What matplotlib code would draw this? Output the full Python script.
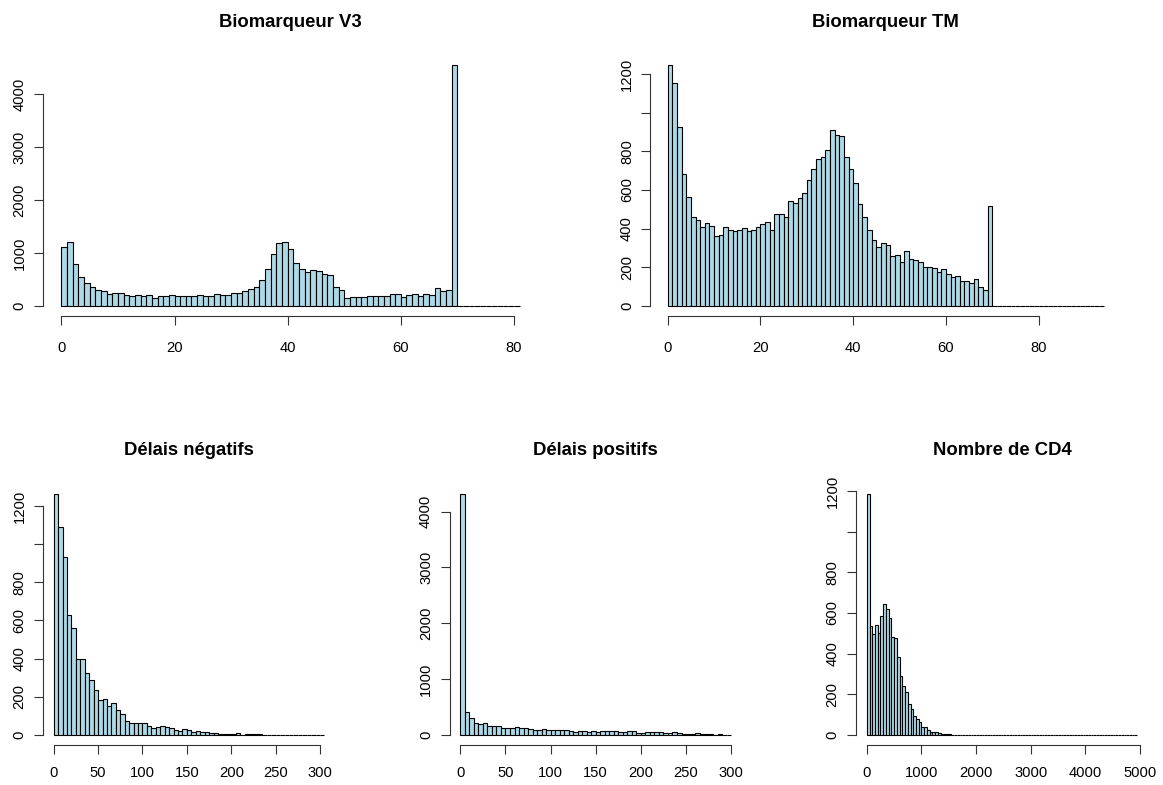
import numpy as np
import matplotlib
matplotlib.use("Agg")
import matplotlib.pyplot as plt

plt.rcParams['font.family'] = ['Liberation Sans', 'DejaVu Sans']

# ---------------- data (counts) ----------------
titles = ["Biomarqueur V3", "Biomarqueur TM", "Délais négatifs", "Délais positifs", "Nombre de CD4"]

v3_bin_width = 1
v3_max_break = 81
v3_counts = [1107, 1201, 786, 553, 428, 352, 296, 277, 233, 245,
             245, 208, 195, 208, 195, 208, 157, 195, 182, 208,
             195, 182, 195, 182, 208, 195, 195, 226, 214, 214,
             245, 245, 277, 314, 352, 484, 692, 981, 1182, 1201,
             1069, 818, 704, 642, 686, 667, 610, 591, 365, 296,
             145, 164, 176, 164, 195, 195, 195, 182, 220, 233,
             176, 201, 226, 182, 233, 214, 333, 283, 302, 4547]

tm_bin_width = 1
tm_max_break = 94
tm_counts = [1245, 1155, 924, 683, 564, 462, 447, 407, 428, 412,
             364, 369, 410, 391, 386, 391, 405, 386, 391, 410,
             422, 436, 391, 476, 476, 462, 545, 534, 557, 583,
             652, 707, 760, 771, 805, 910, 884, 879, 771, 707,
             638, 526, 460, 395, 343, 303, 324, 317, 259, 264,
             226, 286, 245, 240, 229, 203, 203, 198, 176, 193,
             167, 152, 157, 128, 128, 117, 138, 97, 83, 515]

neg_bin_width = 5
neg_max_break = 305
neg_counts = [1265, 1090, 935, 629, 561, 398, 398, 324, 289, 235,
              182, 189, 151, 165, 130, 110, 74, 63, 63, 63,
              63, 49, 35, 40, 46, 40, 35, 26, 19, 30,
              25, 14, 19, 14, 14, 12, 10, 5, 5, 5,
              5, 10, 0, 4, 4, 4, 4]

pos_bin_width = 5
pos_max_break = 300
pos_counts = [4323, 407, 300, 216, 192, 204, 162, 150, 150, 126,
              114, 114, 132, 114, 114, 96, 84, 84, 102, 84,
              84, 84, 84, 78, 66, 60, 66, 66, 60, 66,
              60, 66, 66, 66, 66, 54, 60, 72, 66, 42,
              36, 48, 48, 48, 48, 36, 36, 54, 36, 18,
              18, 18, 36, 18, 18, 12, 6, 18, 6, 0]

cd4_bin_width = 50
cd4_max_break = 4950
cd4_counts = [1187, 534, 498, 543, 503, 584, 646, 620, 575, 482,
              477, 383, 288, 238, 209, 150, 128, 95, 79, 62,
              38, 38, 26, 16, 16, 13, 8, 3, 2, 2,
              5, 1]

x_ticks = [np.arange(0, 81, 20), np.arange(0, 81, 20), np.arange(0, 301, 50),
           np.arange(0, 301, 50), np.arange(0, 5001, 1000)]
y_ticks = [np.arange(0, 4001, 1000), np.arange(0, 1201, 200), np.arange(0, 1201, 200),
           np.arange(0, 4001, 1000), np.arange(0, 1201, 200)]
y_hidden_labels = [[], [1000], [1000], [], [1000]]

series = [(v3_counts, v3_bin_width, v3_max_break),
          (tm_counts, tm_bin_width, tm_max_break),
          (neg_counts, neg_bin_width, neg_max_break),
          (pos_counts, pos_bin_width, pos_max_break),
          (cd4_counts, cd4_bin_width, cd4_max_break)]

# ---------------- layout (pixel rects: left, right, top, bottom) ----------------
W, H = 1163, 785
rects = [(43, 538, 55.4, 315.6),
         (650.3, 1121, 55.7, 315.6),
         (42.9, 335.3, 484, 744.5),
         (449.5, 742, 484, 744.5),
         (856, 1148, 484, 744.5)]
title_baseline = [27, 27, 455, 455, 455]
x_label_pad = [12, 12, 9, 9, 9]

TICK_FS = 10.6
TITLE_FS = 13.3
fig = plt.figure(figsize=(W / 100, H / 100), dpi=100)

for i, (counts, bw, maxb) in enumerate(series):
    l, r, t, b = rects[i]
    ax = fig.add_axes([l / W, 1 - b / H, (r - l) / W, (b - t) / H])
    edges = np.arange(0, maxb + bw / 2, bw)
    full = np.zeros(len(edges) - 1)
    full[:len(counts)] = counts
    ax.bar(edges[:-1], full, width=bw, align='edge', color='#ADD8E6',
           edgecolor='black', linewidth=0.8)
    x0, x1 = edges[0], edges[-1]
    dx = 0.04 * (x1 - x0)
    ax.set_xlim(x0 - dx, x1 + dx)
    ymax = full.max()
    ax.set_ylim(-0.04 * ymax, 1.04 * ymax)

    for s in ['top', 'right']:
        ax.spines[s].set_visible(False)
    xt, yt = x_ticks[i], y_ticks[i]
    ax.spines['bottom'].set_bounds(xt[0], xt[-1])
    ax.spines['left'].set_bounds(yt[0], yt[-1])
    for s in ['bottom', 'left']:
        ax.spines[s].set_linewidth(0.8)
        ax.spines[s].set_color('#333333')
    ax.set_xticks(xt)
    ax.set_xticklabels([str(int(v)) for v in xt])
    ax.set_yticks(yt)
    ax.set_yticklabels(['' if v in y_hidden_labels[i] else str(int(v)) for v in yt],
                       rotation=90, va='center')
    ax.tick_params(axis='x', length=6.5, width=0.8, color='#333333', pad=x_label_pad[i],
                   labelsize=TICK_FS)
    ax.tick_params(axis='y', length=6.5, width=0.8, color='#333333', pad=5.3,
                   labelsize=TICK_FS)
    ax.patch.set_visible(False)

    fig.text(((l + r) / 2) / W, 1 - title_baseline[i] / H, titles[i],
             ha='center', va='baseline', fontsize=TITLE_FS, fontweight='bold')

fig.savefig("out.png", dpi=100)
